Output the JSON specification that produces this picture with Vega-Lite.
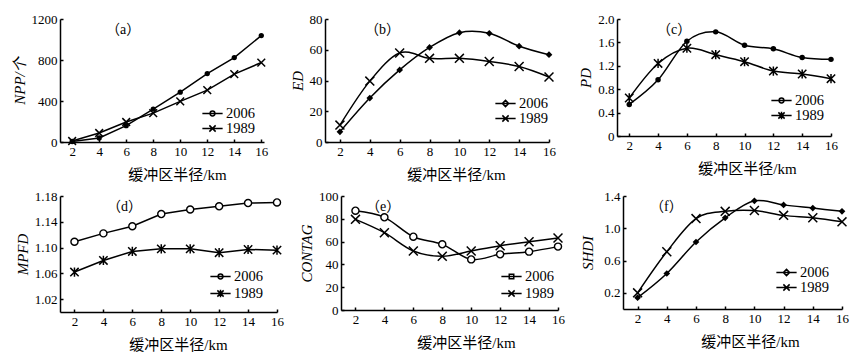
{
  "$schema": "https://vega.github.io/schema/vega-lite/v6.json",
  "padding": {"left": 12, "top": 13, "right": 0, "bottom": 0},
  "background": "white",
  "resolve": {"scale": {"shape": "independent"}, "legend": {"shape": "independent"}},
  "datasets": {
    "a": [
      {"r": 2, "year": "2006", "v": 5}, {"r": 4, "year": "2006", "v": 39}, {"r": 6, "year": "2006", "v": 159}, {"r": 8, "year": "2006", "v": 321},
      {"r": 10, "year": "2006", "v": 486}, {"r": 12, "year": "2006", "v": 668}, {"r": 14, "year": "2006", "v": 824}, {"r": 16, "year": "2006", "v": 1038},
      {"r": 2, "year": "1989", "v": 10}, {"r": 4, "year": "1989", "v": 88}, {"r": 6, "year": "1989", "v": 195}, {"r": 8, "year": "1989", "v": 282},
      {"r": 10, "year": "1989", "v": 396}, {"r": 12, "year": "1989", "v": 506}, {"r": 14, "year": "1989", "v": 662}, {"r": 16, "year": "1989", "v": 775}
    ],
    "b": [
      {"r": 2, "year": "2006", "v": 6.6}, {"r": 4, "year": "2006", "v": 28.6}, {"r": 6, "year": "2006", "v": 46.9}, {"r": 8, "year": "2006", "v": 61.5},
      {"r": 10, "year": "2006", "v": 71.1}, {"r": 12, "year": "2006", "v": 70.7}, {"r": 14, "year": "2006", "v": 62.3}, {"r": 16, "year": "2006", "v": 56.8},
      {"r": 2, "year": "1989", "v": 11}, {"r": 4, "year": "1989", "v": 39.6}, {"r": 6, "year": "1989", "v": 57.9}, {"r": 8, "year": "1989", "v": 54.4},
      {"r": 10, "year": "1989", "v": 54.4}, {"r": 12, "year": "1989", "v": 52.4}, {"r": 14, "year": "1989", "v": 49.1}, {"r": 16, "year": "1989", "v": 42.3}
    ],
    "c": [
      {"r": 2, "year": "2006", "v": 0.54}, {"r": 4, "year": "2006", "v": 0.96}, {"r": 6, "year": "2006", "v": 1.62}, {"r": 8, "year": "2006", "v": 1.78},
      {"r": 10, "year": "2006", "v": 1.55}, {"r": 12, "year": "2006", "v": 1.49}, {"r": 14, "year": "2006", "v": 1.34}, {"r": 16, "year": "2006", "v": 1.31},
      {"r": 2, "year": "1989", "v": 0.65}, {"r": 4, "year": "1989", "v": 1.24}, {"r": 6, "year": "1989", "v": 1.5}, {"r": 8, "year": "1989", "v": 1.39},
      {"r": 10, "year": "1989", "v": 1.27}, {"r": 12, "year": "1989", "v": 1.11}, {"r": 14, "year": "1989", "v": 1.06}, {"r": 16, "year": "1989", "v": 0.98}
    ],
    "d": [
      {"r": 2, "year": "2006", "v": 1.109}, {"r": 4, "year": "2006", "v": 1.122}, {"r": 6, "year": "2006", "v": 1.133}, {"r": 8, "year": "2006", "v": 1.152},
      {"r": 10, "year": "2006", "v": 1.159}, {"r": 12, "year": "2006", "v": 1.164}, {"r": 14, "year": "2006", "v": 1.169}, {"r": 16, "year": "2006", "v": 1.17},
      {"r": 2, "year": "1989", "v": 1.062}, {"r": 4, "year": "1989", "v": 1.08}, {"r": 6, "year": "1989", "v": 1.094}, {"r": 8, "year": "1989", "v": 1.098},
      {"r": 10, "year": "1989", "v": 1.098}, {"r": 12, "year": "1989", "v": 1.092}, {"r": 14, "year": "1989", "v": 1.097}, {"r": 16, "year": "1989", "v": 1.096}
    ],
    "e": [
      {"r": 2, "year": "2006", "v": 87.1}, {"r": 4, "year": "2006", "v": 81.3}, {"r": 6, "year": "2006", "v": 64.3}, {"r": 8, "year": "2006", "v": 57.6},
      {"r": 10, "year": "2006", "v": 44.4}, {"r": 12, "year": "2006", "v": 48.8}, {"r": 14, "year": "2006", "v": 51.2}, {"r": 16, "year": "2006", "v": 55.6},
      {"r": 2, "year": "1989", "v": 79.5}, {"r": 4, "year": "1989", "v": 67.8}, {"r": 6, "year": "1989", "v": 51.8}, {"r": 8, "year": "1989", "v": 47.1},
      {"r": 10, "year": "1989", "v": 51.8}, {"r": 12, "year": "1989", "v": 56.4}, {"r": 14, "year": "1989", "v": 59.9}, {"r": 16, "year": "1989", "v": 63.2}
    ],
    "f": [
      {"r": 2, "year": "2006", "v": 0.14}, {"r": 4, "year": "2006", "v": 0.44}, {"r": 6, "year": "2006", "v": 0.83}, {"r": 8, "year": "2006", "v": 1.13},
      {"r": 10, "year": "2006", "v": 1.34}, {"r": 12, "year": "2006", "v": 1.29}, {"r": 14, "year": "2006", "v": 1.25}, {"r": 16, "year": "2006", "v": 1.21},
      {"r": 2, "year": "1989", "v": 0.2}, {"r": 4, "year": "1989", "v": 0.71}, {"r": 6, "year": "1989", "v": 1.12}, {"r": 8, "year": "1989", "v": 1.21},
      {"r": 10, "year": "1989", "v": 1.22}, {"r": 12, "year": "1989", "v": 1.16}, {"r": 14, "year": "1989", "v": 1.13}, {"r": 16, "year": "1989", "v": 1.08}
    ]
  },
  "spacing": 8,
  "vconcat": [
    {
      "spacing": 21,
      "resolve": {"scale": {"shape": "independent"}, "legend": {"shape": "independent"}},
      "hconcat": [
        {
          "width": 204, "height": 123,
          "title": {"text": "（a）", "dx": 46, "offset": -24},
          "data": {"name": "a"},
          "encoding": {
            "x": {"field": "r", "type": "quantitative", "scale": {"domain": [1.1, 16.2], "nice": false, "zero": false}, "axis": {"values": [2, 4, 6, 8, 10, 12, 14, 16], "title": "缓冲区半径/km", "titleX": 117}},
            "y": {"field": "v", "type": "quantitative", "scale": {"domain": [0, 1200], "nice": false}, "axis": {"values": [0, 400, 800, 1200], "format": "d", "title": "NPP/个"}}
          },
          "layer": [
            {"mark": {"type": "line", "color": "black", "strokeWidth": 1.5}, "encoding": {"detail": {"field": "year"}}},
            {"transform": [{"filter": "datum.year == '2006'"}], "mark": {"type": "point", "shape": "circle", "filled": true, "color": "black", "opacity": 1, "size": 28}},
            {"transform": [{"filter": "datum.year == '1989'"}], "mark": {"type": "point", "shape": "M-1,-1L1,1M-1,1L1,-1", "filled": false, "color": "black", "opacity": 1, "strokeWidth": 1.5, "size": 60}},
            {"mark": {"type": "point", "opacity": 0, "color": "black", "filled": false, "strokeWidth": 1.5},
             "encoding": {"shape": {"field": "year", "type": "nominal", "scale": {"domain": ["2006", "1989"], "range": ["M-1.35,0H1.35M-0.32,0A0.32,0.32 0 1,0 0.32,0A0.32,0.32 0 1,0 -0.32,0Z", "M-1.35,0H1.35M-0.42,-0.42L0.42,0.42M-0.42,0.42L0.42,-0.42"]},
               "legend": {"legendX": 144, "legendY": 86, "encode": {"symbols": {"update": {"opacity": {"value": 1}, "fill": {"value": "black"}, "stroke": {"value": "black"}, "strokeWidth": {"value": 1.5}}}}}}}}
          ]
        },
        {
          "width": 224, "height": 123,
          "title": {"text": "（b）", "dx": 40, "offset": -24},
          "data": {"name": "b"},
          "encoding": {
            "x": {"field": "r", "type": "quantitative", "scale": {"domain": [1, 16], "nice": false, "zero": false}, "axis": {"values": [2, 4, 6, 8, 10, 12, 14, 16], "title": "缓冲区半径/km", "titleX": 131}},
            "y": {"field": "v", "type": "quantitative", "scale": {"domain": [0, 80], "nice": false}, "axis": {"values": [0, 20, 40, 60, 80], "title": "ED"}}
          },
          "layer": [
            {"mark": {"type": "line", "color": "black", "strokeWidth": 1.5, "interpolate": "cardinal"}, "encoding": {"detail": {"field": "year"}}},
            {"transform": [{"filter": "datum.year == '2006'"}], "mark": {"type": "point", "shape": "diamond", "filled": true, "color": "black", "opacity": 1, "size": 45}},
            {"transform": [{"filter": "datum.year == '1989'"}], "mark": {"type": "point", "shape": "M-1,-1L1,1M-1,1L1,-1", "filled": false, "color": "black", "opacity": 1, "strokeWidth": 1.5, "size": 80}},
            {"mark": {"type": "point", "opacity": 0, "color": "black", "filled": false, "strokeWidth": 1.5},
             "encoding": {"shape": {"field": "year", "type": "nominal", "scale": {"domain": ["2006", "1989"], "range": ["M-1.35,0H1.35M0,-0.42L0.42,0L0,0.42L-0.42,0Z", "M-1.35,0H1.35M-0.42,-0.42L0.42,0.42M-0.42,0.42L0.42,-0.42"]},
               "legend": {"legendX": 172, "legendY": 76, "encode": {"symbols": {"update": {"opacity": {"value": 1}, "fill": {"value": "black"}, "stroke": {"value": "black"}, "strokeWidth": {"value": 1.5}}}}}}}}
          ]
        },
        {
          "width": 214, "height": 117,
          "title": {"text": "（c）", "dx": 40, "offset": -24},
          "data": {"name": "c"},
          "encoding": {
            "x": {"field": "r", "type": "quantitative", "scale": {"domain": [1.15, 16], "nice": false, "zero": false}, "axis": {"values": [2, 4, 6, 8, 10, 12, 14, 16], "title": "缓冲区半径/km", "titleX": 130}},
            "y": {"field": "v", "type": "quantitative", "scale": {"domain": [0, 2], "nice": false}, "axis": {"values": [0, 0.4, 0.8, 1.2, 1.6, 2.0], "labelExpr": "datum.value == 0 ? '0' : format(datum.value, '.1f')", "title": "PD", "titlePadding": 4}}
          },
          "layer": [
            {"mark": {"type": "line", "color": "black", "strokeWidth": 1.5, "interpolate": "cardinal"}, "encoding": {"detail": {"field": "year"}}},
            {"transform": [{"filter": "datum.year == '2006'"}], "mark": {"type": "point", "shape": "circle", "filled": true, "color": "black", "opacity": 1, "size": 30}},
            {"transform": [{"filter": "datum.year == '1989'"}], "mark": {"type": "point", "shape": "M-1,-1L1,1M-1,1L1,-1M0,-1.1L0,1.1", "filled": false, "color": "black", "opacity": 1, "strokeWidth": 1.5, "size": 70}},
            {"mark": {"type": "point", "opacity": 0, "color": "black", "filled": false, "strokeWidth": 1.5},
             "encoding": {"shape": {"field": "year", "type": "nominal", "scale": {"domain": ["2006", "1989"], "range": ["M-1.35,0H1.35M-0.32,0A0.32,0.32 0 1,0 0.32,0A0.32,0.32 0 1,0 -0.32,0Z", "M-1.35,0H1.35M-0.42,-0.42L0.42,0.42M-0.42,0.42L0.42,-0.42M0,-0.5V0.5"]},
               "legend": {"legendX": 156, "legendY": 73, "encode": {"symbols": {"update": {"opacity": {"value": 1}, "fill": {"value": "black"}, "stroke": {"value": "black"}, "strokeWidth": {"value": 1.5}}}}}}}}
          ]
        }
      ]
    },
    {
      "spacing": 14,
      "resolve": {"scale": {"shape": "independent"}, "legend": {"shape": "independent"}},
      "hconcat": [
        {
          "width": 217, "height": 116,
          "title": {"text": "（d）", "dx": 47, "offset": -24},
          "data": {"name": "d"},
          "encoding": {
            "x": {"field": "r", "type": "quantitative", "scale": {"domain": [1, 16], "nice": false, "zero": false}, "axis": {"values": [2, 4, 6, 8, 10, 12, 14, 16], "title": "缓冲区半径/km", "titleX": 118}},
            "y": {"field": "v", "type": "quantitative", "scale": {"domain": [1.0, 1.18], "nice": false, "zero": false}, "axis": {"values": [1.02, 1.06, 1.1, 1.14, 1.18], "format": ".2f", "title": "MPFD"}}
          },
          "layer": [
            {"mark": {"type": "line", "color": "black", "strokeWidth": 1.5}, "encoding": {"detail": {"field": "year"}}},
            {"transform": [{"filter": "datum.year == '2006'"}], "mark": {"type": "point", "shape": "circle", "filled": true, "fill": "white", "stroke": "black", "strokeWidth": 1.4, "opacity": 1, "size": 50}},
            {"transform": [{"filter": "datum.year == '1989'"}], "mark": {"type": "point", "shape": "M-1,-1L1,1M-1,1L1,-1M0,-1.1L0,1.1", "filled": false, "color": "black", "opacity": 1, "strokeWidth": 1.5, "size": 70}},
            {"mark": {"type": "point", "opacity": 0, "color": "black", "filled": false, "strokeWidth": 1.5},
             "encoding": {"shape": {"field": "year", "type": "nominal", "scale": {"domain": ["2006", "1989"], "range": ["M-1.35,0H1.35M-0.32,0A0.32,0.32 0 1,0 0.32,0A0.32,0.32 0 1,0 -0.32,0Z", "M-1.35,0H1.35M-0.42,-0.42L0.42,0.42M-0.42,0.42L0.42,-0.42M0,-0.5V0.5"]},
               "legend": {"legendX": 152, "legendY": 72, "rowPadding": 2, "encode": {"symbols": {"update": {"opacity": {"value": 1}, "fill": {"value": "black"}, "stroke": {"value": "black"}, "strokeWidth": {"value": 1.5}}}}}}}}
          ]
        },
        {
          "width": 217, "height": 114,
          "title": {"text": "（e）", "dx": 25, "offset": -24},
          "data": {"name": "e"},
          "encoding": {
            "x": {"field": "r", "type": "quantitative", "scale": {"domain": [1, 16], "nice": false, "zero": false}, "axis": {"values": [2, 4, 6, 8, 10, 12, 14, 16], "title": "缓冲区半径/km", "titleX": 125}},
            "y": {"field": "v", "type": "quantitative", "scale": {"domain": [0, 100], "nice": false}, "axis": {"values": [0, 20, 40, 60, 80, 100], "title": "CONTAG"}}
          },
          "layer": [
            {"mark": {"type": "line", "color": "black", "strokeWidth": 1.5, "interpolate": "cardinal"}, "encoding": {"detail": {"field": "year"}}},
            {"transform": [{"filter": "datum.year == '2006'"}], "mark": {"type": "point", "shape": "circle", "filled": true, "fill": "white", "stroke": "black", "strokeWidth": 1.4, "opacity": 1, "size": 50}},
            {"transform": [{"filter": "datum.year == '1989'"}], "mark": {"type": "point", "shape": "M-1,-1L1,1M-1,1L1,-1", "filled": false, "color": "black", "opacity": 1, "strokeWidth": 1.5, "size": 80}},
            {"mark": {"type": "point", "opacity": 0, "color": "black", "filled": false, "strokeWidth": 1.5},
             "encoding": {"shape": {"field": "year", "type": "nominal", "scale": {"domain": ["2006", "1989"], "range": ["M-1.35,0H1.35M-0.3,-0.3H0.3V0.3H-0.3Z", "M-1.35,0H1.35M-0.42,-0.42L0.42,0.42M-0.42,0.42L0.42,-0.42"]},
               "legend": {"legendX": 162, "legendY": 72, "rowPadding": 2, "encode": {"symbols": {"update": {"opacity": {"value": 1}, "fill": {"value": "black"}, "stroke": {"value": "black"}, "strokeWidth": {"value": 1.5}}}}}}}}
          ]
        },
        {
          "width": 219, "height": 113,
          "title": {"text": "（f）", "dx": 27, "offset": -24},
          "data": {"name": "f"},
          "encoding": {
            "x": {"field": "r", "type": "quantitative", "scale": {"domain": [1, 16], "nice": false, "zero": false}, "axis": {"values": [2, 4, 6, 8, 10, 12, 14, 16], "title": "缓冲区半径/km", "titleX": 127}},
            "y": {"field": "v", "type": "quantitative", "scale": {"domain": [0, 1.4], "nice": false}, "axis": {"values": [0.2, 0.6, 1.0, 1.4], "format": ".1f", "title": "SHDI", "titlePadding": 8}}
          },
          "layer": [
            {"mark": {"type": "line", "color": "black", "strokeWidth": 1.5, "interpolate": "cardinal"}, "encoding": {"detail": {"field": "year"}}},
            {"transform": [{"filter": "datum.year == '2006'"}], "mark": {"type": "point", "shape": "diamond", "filled": true, "color": "black", "opacity": 1, "size": 45}},
            {"transform": [{"filter": "datum.year == '1989'"}], "mark": {"type": "point", "shape": "M-1,-1L1,1M-1,1L1,-1", "filled": false, "color": "black", "opacity": 1, "strokeWidth": 1.5, "size": 80}},
            {"mark": {"type": "point", "opacity": 0, "color": "black", "filled": false, "strokeWidth": 1.5},
             "encoding": {"shape": {"field": "year", "type": "nominal", "scale": {"domain": ["2006", "1989"], "range": ["M-1.35,0H1.35M0,-0.42L0.42,0L0,0.42L-0.42,0Z", "M-1.35,0H1.35M-0.42,-0.42L0.42,0.42M-0.42,0.42L0.42,-0.42"]},
               "legend": {"legendX": 155, "legendY": 68, "encode": {"symbols": {"update": {"opacity": {"value": 1}, "fill": {"value": "black"}, "stroke": {"value": "black"}, "strokeWidth": {"value": 1.5}}}}}}}}
          ]
        }
      ]
    }
  ],
  "config": {
    "font": "'Liberation Serif', 'Noto Sans CJK SC', serif",
    "view": {"stroke": null},
    "axis": {
      "grid": false, "domainColor": "black", "domainWidth": 1.5, "tickColor": "black", "tickWidth": 1.5, "tickSize": -3,
      "labelFont": "'Liberation Serif', 'Noto Sans CJK SC', serif", "labelFontSize": 13, "labelColor": "black", "labelPadding": 6,
      "titleFont": "'Liberation Serif', 'Noto Sans CJK SC', serif", "titleColor": "black", "titleFontWeight": "normal", "titleFontSize": 15
    },
    "axisX": {"titlePadding": 9, "labelFlush": false},
    "axisY": {"titleFontStyle": "italic", "titlePadding": 4, "labelFlush": false},
    "legend": {
      "orient": "none", "title": null, "labelFont": "'Liberation Serif', 'Noto Sans CJK SC', serif", "labelFontSize": 14.5, "labelColor": "black",
      "symbolSize": 225, "labelOffset": 5, "rowPadding": 0, "padding": 0, "symbolFillColor": "black", "symbolStrokeColor": "black", "symbolStrokeWidth": 1.5
    },
    "title": {
      "anchor": "start", "frame": "group", "font": "'Liberation Serif', 'Noto Sans CJK SC', serif", "fontSize": 14, "fontWeight": "normal", "color": "black", "baseline": "middle"
    }
  }
}
